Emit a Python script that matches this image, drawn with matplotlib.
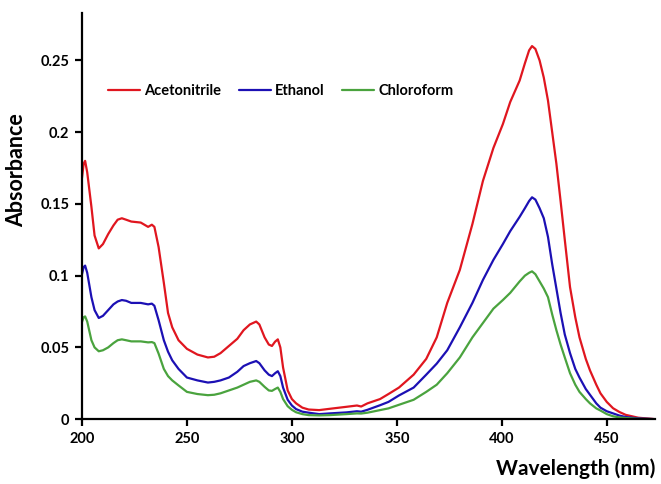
import matplotlib
matplotlib.use("Agg")
import matplotlib.pyplot as plt

# wavelength grid (nm)
wavelength = [200, 200.8, 201.5, 202.5, 204.5, 206, 208, 210, 212.5, 215,
              217, 219, 221, 223.5, 228, 231.5, 233.3, 234.5, 236.5, 239,
              241, 243, 246, 250, 255, 260, 263, 266, 270, 274,
              277, 280, 283, 284.5, 287, 289, 290.5, 292, 293.3, 294.5,
              295.8, 298, 300, 302, 305, 308, 313, 318, 326, 331,
              333, 336, 342, 346, 351, 358, 364, 369, 374, 380,
              386, 391, 396, 400.5, 404, 408.5, 411, 413, 414.4, 416,
              418, 420, 422, 424, 426, 428, 430, 432.5, 435, 437,
              440, 442, 445, 447, 450, 453, 456, 459, 465, 473]

acetonitrile = [0.168, 0.178, 0.180, 0.172, 0.148, 0.128, 0.119, 0.122, 0.129, 0.135,
                0.139, 0.140, 0.139, 0.1377, 0.137, 0.134, 0.1355, 0.134, 0.120, 0.095,
                0.074, 0.064, 0.055, 0.049, 0.045, 0.043, 0.0435, 0.046, 0.051, 0.056,
                0.062, 0.066, 0.068, 0.066, 0.057, 0.052, 0.051, 0.054, 0.0556, 0.050,
                0.036, 0.020, 0.014, 0.011, 0.008, 0.0067, 0.0063, 0.0072, 0.0086, 0.0095,
                0.0088, 0.011, 0.014, 0.0175, 0.022, 0.031, 0.042, 0.057, 0.081, 0.104,
                0.136, 0.166, 0.189, 0.2056, 0.221, 0.236, 0.248, 0.257, 0.260, 0.258,
                0.250, 0.238, 0.222, 0.200, 0.178, 0.152, 0.125, 0.092, 0.071, 0.057,
                0.042, 0.034, 0.024, 0.018, 0.012, 0.0076, 0.005, 0.003, 0.001, 0.0]

ethanol = [0.101, 0.106, 0.107, 0.102, 0.085, 0.076, 0.0705, 0.072, 0.076, 0.080,
           0.082, 0.083, 0.0825, 0.081, 0.081, 0.080, 0.0805, 0.079, 0.069, 0.055,
           0.047, 0.041, 0.035, 0.029, 0.027, 0.0255, 0.026, 0.027, 0.029, 0.033,
           0.037, 0.039, 0.0405, 0.039, 0.034, 0.031, 0.030, 0.032, 0.0334, 0.030,
           0.022, 0.0135, 0.0095, 0.007, 0.0052, 0.0045, 0.0035, 0.004, 0.0047, 0.0055,
           0.0052, 0.0065, 0.0097, 0.012, 0.0165, 0.022, 0.031, 0.0387, 0.048, 0.064,
           0.081, 0.097, 0.111, 0.122, 0.131, 0.141, 0.147, 0.152, 0.1546, 0.153,
           0.147, 0.140, 0.127, 0.108, 0.091, 0.074, 0.059, 0.046, 0.035, 0.029,
           0.021, 0.017, 0.011, 0.008, 0.0055, 0.004, 0.0025, 0.0015, 0.0005, 0.0]

chloroform = [0.0677, 0.071, 0.0716, 0.068, 0.055, 0.050, 0.0473, 0.048, 0.050, 0.053,
              0.055, 0.0556, 0.055, 0.0542, 0.0542, 0.0535, 0.0537, 0.053, 0.0457, 0.035,
              0.030, 0.027, 0.0235, 0.019, 0.0175, 0.0167, 0.017, 0.018, 0.020, 0.022,
              0.024, 0.026, 0.027, 0.026, 0.0225, 0.020, 0.0197, 0.021, 0.022, 0.019,
              0.014, 0.009, 0.0065, 0.0048, 0.0035, 0.0028, 0.0026, 0.0028, 0.0035, 0.004,
              0.0039, 0.0045, 0.0063, 0.0075, 0.010, 0.0135, 0.019, 0.024, 0.032, 0.043,
              0.057, 0.067, 0.077, 0.083, 0.088, 0.096, 0.100, 0.102, 0.103, 0.101,
              0.096, 0.091, 0.085, 0.073, 0.062, 0.052, 0.043, 0.032, 0.024, 0.019,
              0.014, 0.011, 0.0075, 0.006, 0.0035, 0.002, 0.0012, 0.0008, 0.0002, 0.0]

xticks = [200, 250, 300, 350, 400, 450]
yticks = [0, 0.05, 0.1, 0.15, 0.2, 0.25]
ytick_labels = ["0", "0.05", "0.1", "0.15", "0.2", "0.25"]

plt.rcParams['font.family'] = ['Lato', 'DejaVu Sans']

fig = plt.figure(figsize=(6.61, 4.84), dpi=100)
ax = fig.add_axes([0.124, 0.134, 0.867, 0.839])

style = dict(lw=1.6, solid_joinstyle='round', solid_capstyle='round')
ax.plot(wavelength, acetonitrile, color='#e0161f', label='Acetonitrile', **style)
ax.plot(wavelength, ethanol, color='#1c10b4', label='Ethanol', **style)
ax.plot(wavelength, chloroform, color='#4aa33e', label='Chloroform', **style)

ax.set_xlim(200, 473)
ax.set_ylim(0, 0.283)
ax.set_xticks(xticks)
ax.set_yticks(yticks)
ax.set_yticklabels(ytick_labels)

for s in ['top', 'right']:
    ax.spines[s].set_visible(False)
for s in ['left', 'bottom']:
    ax.spines[s].set_linewidth(1.6)
ax.tick_params(direction='out', length=5, width=1.6, labelsize=10.5, pad=4)
for lab in ax.get_xticklabels() + ax.get_yticklabels():
    lab.set_fontweight('bold')

ax.set_ylabel('Absorbance', fontsize=15.5, fontweight='bold')
ax.yaxis.set_label_coords(-0.095, 0.613)
ax.set_xlabel('Wavelength (nm)', fontsize=15, fontweight='bold', loc='right')
ax.xaxis.set_label_coords(1.0, -0.096)

leg = ax.legend(ncol=3, frameon=False, loc='center left',
                bbox_to_anchor=(0.045, 0.808), borderaxespad=0, borderpad=0,
                handlelength=2.2, handletextpad=0.3, columnspacing=1.2,
                prop={'weight': 'bold', 'size': 10.5})

fig.savefig('out.png', dpi=100)
